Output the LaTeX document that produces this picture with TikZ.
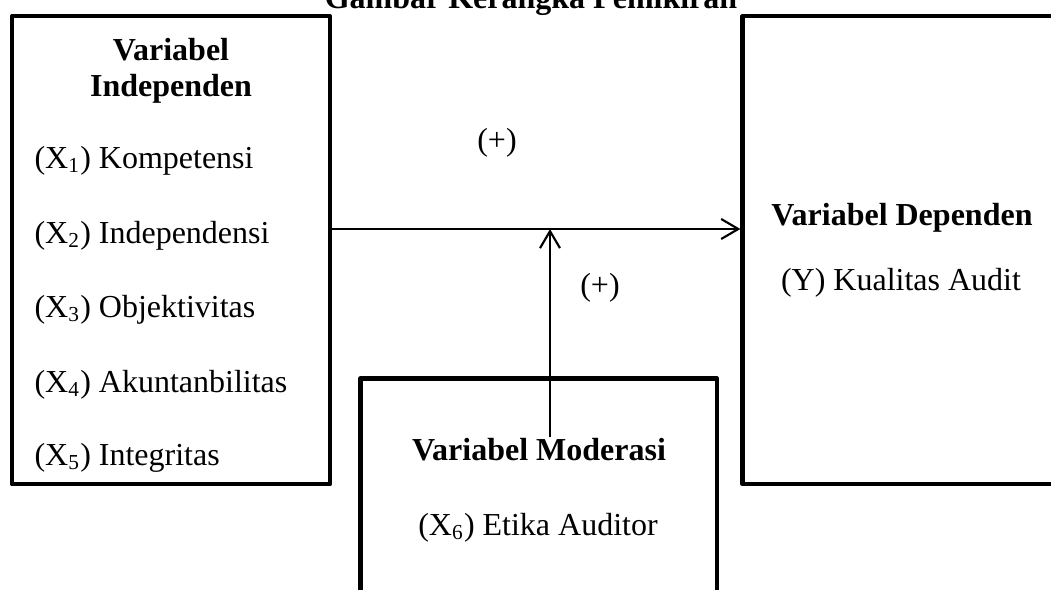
\documentclass[tikz,border=0pt]{standalone}
\usepackage{fontspec}
\setmainfont{Liberation Serif}
\usetikzlibrary{arrows.meta}
\newcommand{\px}{0.375pt}

\begin{document}
\begin{tikzpicture}[x=0.375pt, y=-0.375pt,
    varbox/.style={draw, line width=1.6pt, line join=round, rectangle, inner sep=0pt},
    vartitle/.style={inner sep=0pt, font=\fontsize{12}{14.4}\selectfont\bfseries},
    vartext/.style={inner sep=0pt, font=\fontsize{12}{14.4}\selectfont},
    conn/.style={line width=0.8pt, -{Straight Barb[length=6.4pt, width=7.5pt]}}]
    \useasboundingbox (0,0) rectangle (1051,589);
    % title (cut at the top)
    \node[vartitle, anchor=base] (title) at (531,8) {Gambar Kerangka Pemikiran};
    % boxes
    \node[varbox, minimum width={318*\px}, minimum height={468*\px}] (indep) at (171,250.25) {};
    \node[varbox, minimum width={318*\px}, minimum height={468*\px}] (dep) at (901.5,250.25) {};
    \node[varbox, minimum width={356.5*\px}, minimum height={261.5*\px}] (mod) at (538.75,509.25) {};
    % independent variables
    \node[vartitle, anchor=base] (indeptitle) at (171,60) {Variabel};
    \node[vartitle, anchor=base] (indeptitlb) at (171,96) {Independen};
    \foreach \i/\name/\yy in {1/Kompetensi/168, 2/Independensi/243, 3/Objektivitas/317, 4/Akuntanbilitas/392, 5/Integritas/465}
        \node[vartext, anchor=base west] (x\i) at (34,\yy) {(X\textsubscript{\i}) \name};
    % dependent variable
    \node[vartitle, anchor=base] (deptitle) at (902,225) {Variabel Dependen};
    \node[vartext, anchor=base] (y) at (901,290) {(Y) Kualitas Audit};
    % moderating variable
    \node[vartitle, anchor=base] (modtitle) at (539,460) {Variabel Moderasi};
    \node[vartext, anchor=base] (x6) at (538,535) {(X\textsubscript{6}) Etika Auditor};
    % connectors
    \coordinate (h) at (0,229);
    \coordinate (junction) at (550,229);
    \draw[conn] (indep.east |- h) -- (dep.west |- h);
    \draw[conn] (modtitle.north -| junction) -- (junction);
    \node[vartext] (plusa) at (497,143) {(+)};
    \node[vartext] (plusb) at (600,288) {(+)};
\end{tikzpicture}
\end{document}
